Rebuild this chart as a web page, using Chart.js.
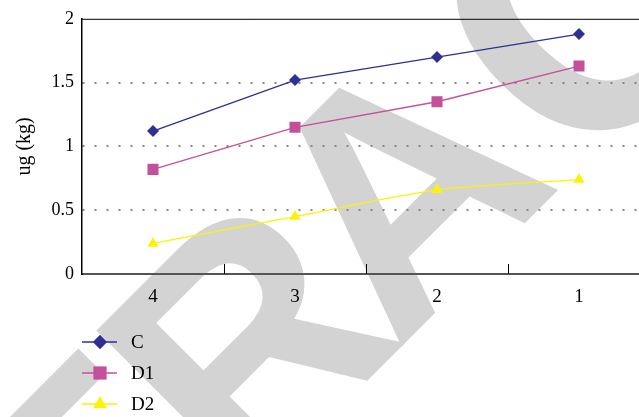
<!DOCTYPE html>
<html>
<head>
<meta charset="utf-8">
<script src="https://cdn.jsdelivr.net/npm/chart.js@4.4.0/dist/chart.umd.min.js"></script>
<style>
  html, body { margin: 0; padding: 0; background: #fff; overflow: hidden; }
  #wrap { width: 660px; height: 417px; }
</style>
</head>
<body>
<div id="wrap"><canvas id="Chart" width="660" height="417"></canvas></div>
<script>
// values
const categories = ['4', '3', '2', '1'];
const seriesC = [1.12, 1.52, 1.70, 1.88];
const seriesD1 = [0.82, 1.15, 1.35, 1.63];
const seriesD2 = [0.24, 0.45, 0.66, 0.74];
const yTicks = [0, 0.5, 1, 1.5, 2];

const serif = "'Liberation Serif', 'DejaVu Serif', serif";
const ctx = document.getElementById('Chart').getContext('2d');

// grey diagonal watermark behind everything, letter by letter around the middle "A"
const watermark = {
    id: 'watermark',
    beforeDraw(chart) {
        const c = chart.ctx;
        const word = 'RETRACTED';
        const mid = 4;
        const size = 330;
        const font = (s) => "bold " + s + "px 'Liberation Sans', Arial, sans-serif";
        c.save();
        c.translate(480, 268);
        c.rotate(-Math.PI / 4);
        c.font = font(size);
        c.fillStyle = '#d3d3d3';
        c.textAlign = 'center';
        c.textBaseline = 'alphabetic';
        const w = [...word].map(ch => c.measureText(ch).width);
        let pos = 0;
        for (let i = mid; i < word.length; i++) {
            if (i === mid + 1) {
                // the C of the original face is rounder and larger
                c.font = font(375);
                c.fillText(word[i], pos + 27, 16);
                c.font = font(size);
            } else {
                c.fillText(word[i], pos + (i > mid ? 27 : 0), 0);
            }
            pos += w[i] / 2 + (w[i + 1] || 0) / 2;
        }
        pos = 0;
        for (let i = mid - 1; i >= 0; i--) {
            pos -= w[i + 1] / 2 + w[i] / 2;
            c.fillText(word[i], pos + 20, 0);
        }
        c.restore();
    }
};

// small tick marks between categories, pointing up into the plot
const innerTicks = {
    id: 'innerTicks',
    afterDatasetsDraw(chart) {
        const x = chart.scales.x;
        const bottom = chart.chartArea.bottom;
        const c = chart.ctx;
        c.save();
        c.strokeStyle = '#000';
        c.lineWidth = 1;
        for (let i = 0; i < categories.length - 1; i++) {
            const px = Math.round((x.getPixelForTick(i) + x.getPixelForTick(i + 1)) / 2) + 0.5;
            c.beginPath();
            c.moveTo(px, bottom);
            c.lineTo(px, bottom - 10);
            c.stroke();
        }
        // top frame line
        c.beginPath();
        c.moveTo(chart.chartArea.left, chart.chartArea.top + 0.5);
        c.lineTo(chart.width, chart.chartArea.top + 0.5);
        c.stroke();
        c.restore();
    }
};

// vertical legend under the chart
const stackLegend = {
    id: 'stackLegend',
    afterDraw(chart) {
        const c = chart.ctx;
        const left = chart.chartArea.left;
        c.save();
        chart.data.datasets.forEach((ds, i) => {
            const y = 342 + i * 31;
            c.strokeStyle = ds.borderColor;
            c.lineWidth = 1.5;
            c.beginPath();
            c.moveTo(left, y);
            c.lineTo(left + 35, y);
            c.stroke();
            c.fillStyle = ds.backgroundColor;
            Chart.helpers.drawPoint(c, {
                pointStyle: ds.pointStyle,
                radius: ds.pointRadius * 1.2,
                rotation: 0,
                borderWidth: 0
            }, left + 18, y);
            c.fillStyle = '#000';
            c.font = '19px ' + serif;
            c.textAlign = 'left';
            c.textBaseline = 'middle';
            c.fillText(ds.label, left + 49, y + 1);
        });
        c.restore();
    }
};

function series(label, data, color, style, radius, tension) {
    return {
        label: label,
        data: data,
        borderColor: color,
        backgroundColor: color,
        pointBackgroundColor: color,
        pointBorderColor: color,
        pointStyle: style,
        pointRadius: radius,
        pointBorderWidth: 0,
        borderWidth: 1.3,
        tension: tension,
        fill: false
    };
}

const myChart = new Chart(ctx, {
    type: 'line',
    data: {
        labels: categories,
        datasets: [
            series('C', seriesC, '#2e3192', 'rectRot', 6, 0),
            series('D1', seriesD1, '#c4509c', 'rect', 7.8, 0),
            series('D2', seriesD2, '#fff200', 'triangle', 6.5, 0.25)
        ]
    },
    options: {
        responsive: false,
        animation: false,
        devicePixelRatio: 1,
        layout: { padding: { top: 16, right: 10, bottom: 103, left: 0 } },
        plugins: {
            legend: { display: false },
            tooltip: { enabled: false }
        },
        scales: {
            x: {
                offset: true,
                afterFit(scale) { scale.height = 40; },
                grid: { display: true, drawOnChartArea: false, drawTicks: false },
                border: { display: true, color: '#555', width: 2 },
                ticks: { color: '#000', font: { family: serif, size: 19 }, padding: 12 }
            },
            y: {
                min: 0,
                max: 2,
                afterFit(scale) { scale.width = 82; },
                afterBuildTicks(scale) { scale.ticks = yTicks.map(v => ({ value: v })); },
                grid: {
                    drawTicks: false,
                    lineWidth: 2,
                    color: (c) => (c.tick && c.tick.value > 0 && c.tick.value < 2) ? '#888' : 'rgba(0,0,0,0)'
                },
                border: { display: true, color: '#000', width: 1.5, dash: [2, 10] },
                ticks: {
                    color: '#000',
                    font: { family: serif, size: 18 },
                    padding: 8,
                    callback: (v) => String(v)
                },
                title: {
                    display: true,
                    text: 'ug (kg)',
                    color: '#000',
                    font: { family: serif, size: 20 },
                    padding: { top: 13, bottom: 0 }
                }
            }
        }
    },
    plugins: [watermark, innerTicks, stackLegend]
});
</script>
</body>
</html>
